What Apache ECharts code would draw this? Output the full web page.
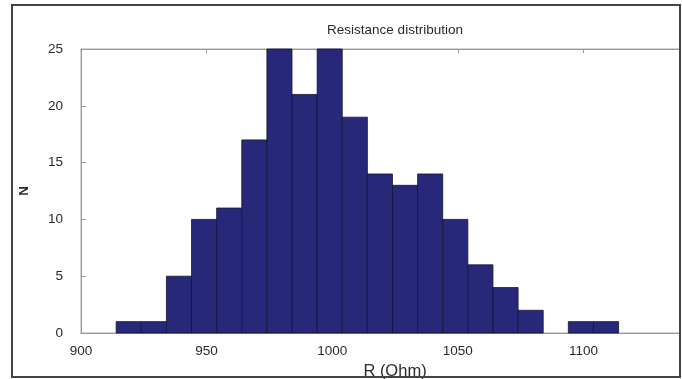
<!DOCTYPE html>
<html>
<head>
<meta charset="utf-8">
<script src="https://cdn.jsdelivr.net/npm/echarts@6/dist/echarts.min.js"></script>
<style>html,body{margin:0;padding:0;background:#fff}#c{width:682px;height:379px}</style>
</head>
<body>
<div id="c"></div>
<script>
// Histogram data
const binLows = [914, 924, 934, 944, 954, 964, 974, 984, 994, 1004, 1014, 1024, 1034, 1044, 1054, 1064, 1074, 1084, 1094, 1104];
const binWidth = 10;
const counts = [1, 1, 5, 10, 11, 17, 25, 21, 25, 19, 14, 13, 14, 10, 6, 4, 2, 0, 1, 1];
const xTicks = [900, 950, 1000, 1050, 1100];
const yTicks = [0, 5, 10, 15, 20, 25];
const titleText = 'Resistance distribution';
const xName = 'R (Ohm)';
const yName = 'N';

const data = binLows.map((lo, i) => [lo, lo + binWidth, counts[i]]);

const chart = echarts.init(document.getElementById('c'), null, {renderer: 'canvas'});
const font = 'Liberation Sans, Arial, sans-serif';
chart.setOption({
  animation: false,
  backgroundColor: '#fff',
  title: {
    text: titleText, left: 395, top: 23, textAlign: 'center', padding: 0,
    textStyle: {fontSize: 13.5, fontWeight: 'normal', color: '#2a2a2a', fontFamily: font}
  },
  grid: {left: 81, top: 49, bottom: 46, width: 628, containLabel: false, outerBoundsMode: 'none',
    show: true, borderColor: '#aaa', borderWidth: 1, backgroundColor: 'transparent'},
  xAxis: [{
    type: 'value', min: 900, max: 1150, interval: 50,
    name: xName, nameLocation: 'middle', nameGap: 29,
    nameTextStyle: {fontSize: 16.5, color: '#2a2a2a', fontFamily: font},
    axisLine: {show: true, lineStyle: {color: '#999', width: 1}},
    axisTick: {show: true, inside: true, length: 4, lineStyle: {color: '#999'}},
    axisLabel: {fontSize: 13.5, color: '#2a2a2a', margin: 11, fontFamily: font,
      formatter: v => xTicks.includes(v) ? String(v) : ''},
    splitLine: {show: false}
  }, {
    type: 'value', min: 900, max: 1150, interval: 50, position: 'top',
    axisLine: {show: true, lineStyle: {color: '#999', width: 1}},
    axisTick: {show: true, inside: true, length: 4, lineStyle: {color: '#999'}},
    axisLabel: {show: false}, splitLine: {show: false}
  }],
  yAxis: {
    type: 'value', min: 0, max: 25, interval: 5,
    name: yName, nameLocation: 'middle', nameGap: 50, nameRotate: 90,
    nameTextStyle: {fontSize: 13.5, fontWeight: 'bold', color: '#2a2a2a', fontFamily: font},
    axisLine: {show: true, lineStyle: {color: '#999', width: 1}},
    axisTick: {show: true, inside: true, length: 5, lineStyle: {color: '#999'}},
    axisLabel: {fontSize: 13.5, color: '#2a2a2a', margin: 18, fontFamily: font,
      formatter: v => yTicks.includes(v) ? String(v) : ''},
    splitLine: {show: false}
  },
  series: [{
    type: 'custom',
    xAxisIndex: 0,
    encode: {x: [0, 1], y: 2},
    data: data,
    z: 5,
    renderItem: function (params, api) {
      const v = api.value(2);
      if (!v) return null;
      const p0 = api.coord([api.value(0), 0]);
      const p1 = api.coord([api.value(1), v]);
      return {
        type: 'rect',
        shape: {x: p0[0], y: p1[1], width: p1[0] - p0[0], height: p0[1] - p1[1]},
        style: {fill: '#27287a', stroke: '#151535', lineWidth: 0.8}
      };
    }
  }],
  graphic: [{
    type: 'rect', z: 100, silent: true,
    shape: {x: 12, y: 5, width: 668, height: 372},
    style: {fill: 'none', stroke: '#444', lineWidth: 2}
  }, {
    type: 'rect', z: 99, silent: true,
    shape: {x: 681, y: 0, width: 10, height: 379},
    style: {fill: '#fff'}
  }]
});
</script>
</body>
</html>
